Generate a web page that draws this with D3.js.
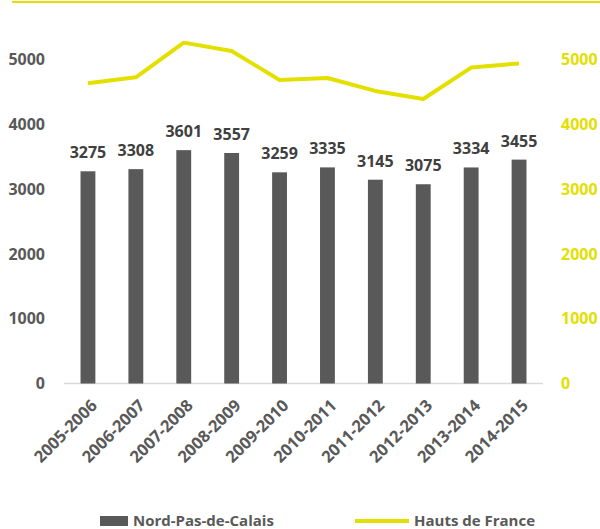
<!DOCTYPE html>
<html><head><meta charset="utf-8">
<script src="https://cdn.jsdelivr.net/npm/d3@7/dist/d3.min.js"></script>
<style>body{margin:0;background:#fff}svg{display:block}text{font-family:"Open Sans",sans-serif;font-weight:bold}</style>
</head><body><svg id="c" width="600" height="529"></svg>
<script>
const categories = ["2005-2006","2006-2007","2007-2008","2008-2009","2009-2010","2010-2011","2011-2012","2012-2013","2013-2014","2014-2015"];
const nordPasDeCalais = [3275,3308,3601,3557,3259,3335,3145,3075,3334,3455];
const hautsDeFrance = [4635,4725,5260,5130,4685,4715,4515,4390,4875,4940];
const yTicks = [0,1000,2000,3000,4000,5000];
const seriesNames = ["Nord-Pas-de-Calais","Hauts de France"];

const svg = d3.select("#c");
const gray = "#595959", yellow = "#e3e000";
const x = d3.scaleBand().domain(categories).range([64,543]).paddingInner(0.69).paddingOuter(0.345);
const y = d3.scaleLinear().domain([0,5000]).range([383.5,59.5]);

// top border line
svg.append("line").attr("x1",12).attr("x2",600).attr("y1",2).attr("y2",2).attr("stroke",yellow).attr("stroke-width",2);

// left axis labels
svg.append("g").selectAll("text").data(yTicks).join("text")
  .attr("x",45).attr("y",d=>y(d)).attr("dy","0.35em").attr("text-anchor","end")
  .attr("fill",gray).style("font-size","16px").text(d=>d);
// right axis labels
svg.append("g").selectAll("text").data(yTicks).join("text")
  .attr("x",561).attr("y",d=>y(d)).attr("dy","0.35em").attr("text-anchor","start")
  .attr("fill",yellow).style("font-size","16px").text(d=>d);

// baseline
svg.append("line").attr("x1",64).attr("x2",543).attr("y1",y(0)).attr("y2",y(0)).attr("stroke","#d9d9d9").attr("stroke-width",1.5);

// bars
svg.append("g").selectAll("rect").data(nordPasDeCalais).join("rect")
  .attr("x",(d,i)=>x(categories[i])).attr("width",x.bandwidth())
  .attr("y",d=>y(d)).attr("height",d=>y(0)-y(d)).attr("fill",gray);
// bar labels
svg.append("g").selectAll("text").data(nordPasDeCalais).join("text")
  .attr("x",(d,i)=>x(categories[i])+x.bandwidth()/2).attr("y",d=>y(d)-13)
  .attr("text-anchor","middle").attr("fill","#404040").style("font-size","16px").text(d=>d);

// line
const line = d3.line().x((d,i)=>x(categories[i])+x.bandwidth()/2).y(d=>y(d));
svg.append("path").datum(hautsDeFrance).attr("d",line).attr("fill","none")
  .attr("stroke",yellow).attr("stroke-width",4).attr("stroke-linejoin","round");

// x labels
svg.append("g").selectAll("text").data(categories).join("text")
  .attr("transform",d=>`translate(${x(d)+x.bandwidth()/2+2},${y(0)+15}) rotate(-45)`)
  .attr("text-anchor","end").attr("dy","0.7em").attr("fill",gray).style("font-size","16.5px").text(d=>d);

// legend
svg.append("rect").attr("x",100).attr("y",516).attr("width",28).attr("height",10).attr("fill",gray);
svg.append("text").attr("x",133).attr("y",526).attr("fill",gray).style("font-size","15px").text(seriesNames[0]);
svg.append("line").attr("x1",355).attr("x2",409).attr("y1",521).attr("y2",521).attr("stroke",yellow).attr("stroke-width",4);
svg.append("text").attr("x",414).attr("y",526).attr("fill",gray).style("font-size","15px").text(seriesNames[1]);
</script></body></html>
